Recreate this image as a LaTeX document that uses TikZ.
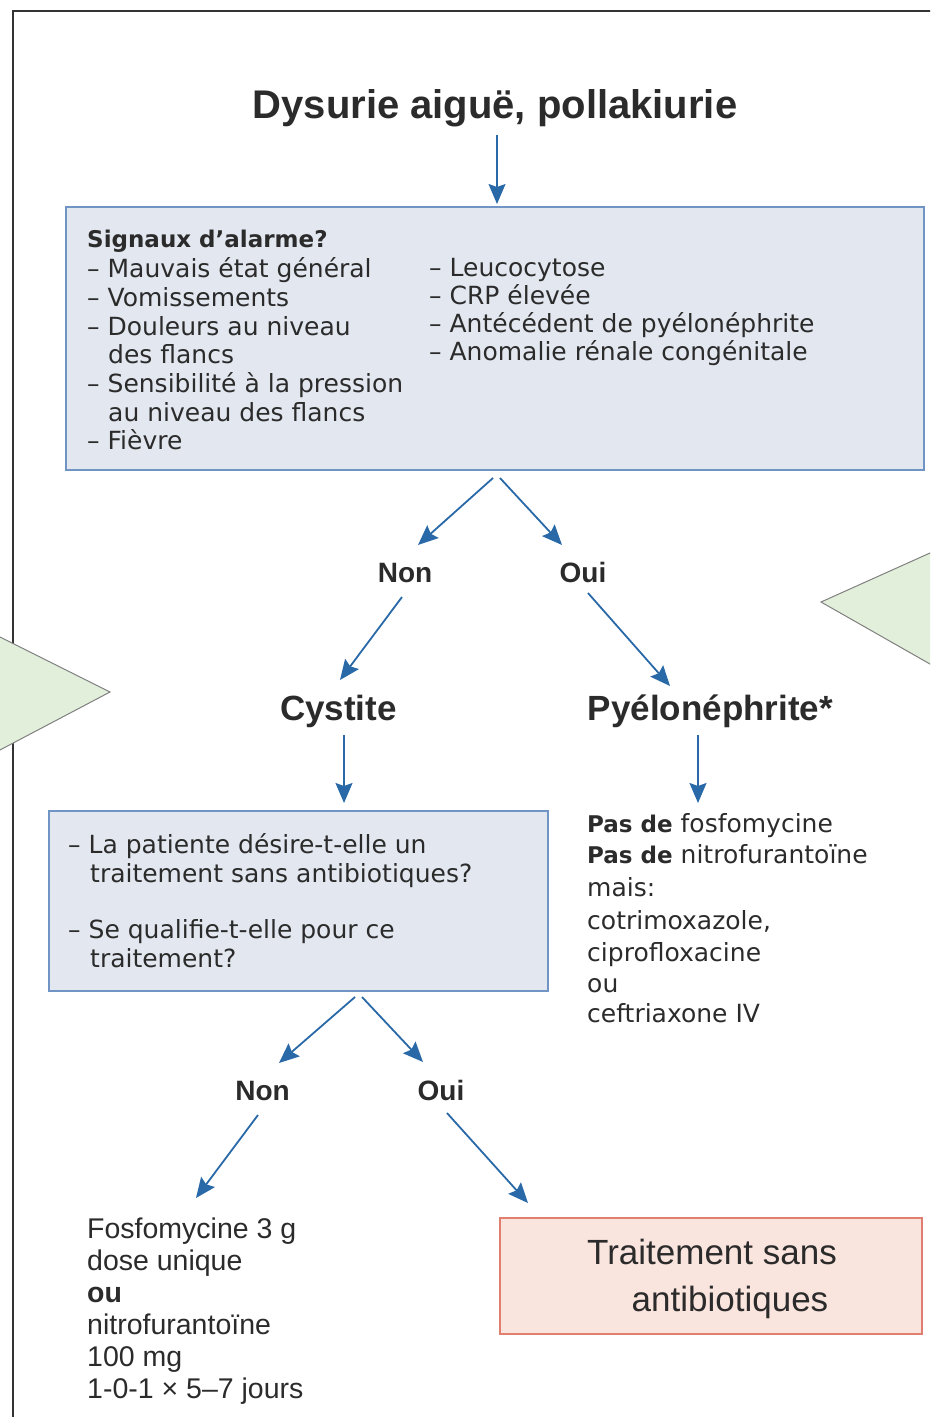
\documentclass[tikz,border=0pt]{standalone}
\usepackage{fontspec}
\setmainfont{DejaVu Sans}
\newfontfamily\helv{Liberation Sans}
\usetikzlibrary{arrows.meta}
\definecolor{arrowblue}{HTML}{2A69A8}
\definecolor{boxfill}{HTML}{E3E8F0}
\definecolor{boxline}{HTML}{7094C4}
\definecolor{redfill}{HTML}{FAE4DE}
\definecolor{redline}{HTML}{E07F70}
\definecolor{greenfill}{HTML}{E2EFDA}
\definecolor{txt}{HTML}{2B2B2B}
\definecolor{framecol}{HTML}{333333}
\begin{document}
\begin{tikzpicture}[x=1pt,y=-1pt,
  arr/.style={draw=arrowblue, line width=1.8pt, -{Stealth[length=20pt,width=17pt,inset=3pt]}},
  bluebox/.style={draw=boxline, fill=boxfill, line width=2pt, inner sep=0pt},
  redbox/.style={draw=redline, fill=redfill, line width=2pt, inner sep=0pt},
  body/.style={font=\fontsize{25}{29}\selectfont, text=txt, inner sep=0pt, anchor=base west},
  bodyb/.style={font=\fontsize{23}{29}\selectfont\bfseries, text=txt, inner sep=0pt, anchor=base west},
  cond/.style={font=\helv\fontsize{28.5}{32}\selectfont, text=txt, inner sep=0pt, anchor=base west},
  label/.style={font=\helv\bfseries\fontsize{28}{32}\selectfont, text=txt, inner sep=0pt, anchor=base},
  head/.style={font=\helv\bfseries\fontsize{35}{40}\selectfont, text=txt, inner sep=0pt, anchor=base},
  tri/.style={fill=greenfill, draw=gray, line width=1pt}
]
\useasboundingbox (0,0) rectangle (930,1417);
\begin{scope}
\clip (0,0) rectangle (930,1417);
\draw[framecol, line width=2.5pt] (13,1430) -- (13,11) -- (940,11);
\draw[tri] (-5,634.5) -- (110,692) -- (-5,752.6);
\draw[tri] (940,548.5) -- (821,602) -- (940,669.7);
\end{scope}

% title
\node[font=\helv\bfseries\fontsize{40}{44}\selectfont, text=txt, inner sep=0pt, anchor=base] (title) at (495,118) {Dysurie aiguë, pollakiurie};

% box 1
\node[bluebox, minimum width=858pt, minimum height=263pt] (b1) at (495,338.5) {};
\node[bodyb] (s0) at (87,247.3) {Signaux d’alarme?};
\node[body] (s1) at (87,277) {– Mauvais état général};
\node[body] (s2) at (87,306) {– Vomissements};
\node[body] (s3) at (87,335) {– Douleurs au niveau};
\node[body] (s4) at (108,363.5) {des flancs};
\node[body] (s5) at (87,392.5) {– Sensibilité à la pression};
\node[body] (s6) at (108,421) {au niveau des flancs};
\node[body] (s7) at (87,449.5) {– Fièvre};
\node[body] (r1) at (429,276) {– Leucocytose};
\node[body] (r2) at (429,304.3) {– CRP élevée};
\node[body] (r3) at (429,332.7) {– Antécédent de pyélonéphrite};
\node[body] (r4) at (429,360.7) {– Anomalie rénale congénitale};

% level labels
\node[label] (non1) at (405,582) {Non};
\node[label] (oui1) at (583,582) {Oui};
\node[head] (cys) at (338.5,720) {Cystite};
\node[head] (pye) at (710.5,720) {Pyélonéphrite*};

% box 2
\node[bluebox, minimum width=499pt, minimum height=180pt] (b2) at (298.5,901) {};
\node[body] (q1) at (68,853) {– La patiente désire-t-elle un};
\node[body] (q2) at (90,882) {traitement sans antibiotiques?};
\node[body] (q3) at (68,938) {– Se qualifie-t-elle pour ce};
\node[body] (q4) at (90,967) {traitement?};

% right block
\node[body] (p1) at (587,832.3) {{\fontsize{23}{29}\selectfont\bfseries Pas de} fosfomycine};
\node[body] (p2) at (587,863.5) {{\fontsize{23}{29}\selectfont\bfseries Pas de} nitrofurantoïne};
\node[body] (p3) at (587,896.7) {mais:};
\node[body] (p4) at (587,929) {cotrimoxazole,};
\node[body] (p5) at (587,961.7) {ciprofloxacine};
\node[body] (p6) at (587,992.7) {ou};
\node[body] (p7) at (587,1022.7) {ceftriaxone IV};

% level 2 labels
\node[label] (non2) at (262.5,1100) {Non};
\node[label] (oui2) at (441,1100) {Oui};

% bottom left
\node[cond] (f1) at (87,1238) {Fosfomycine 3 g};
\node[cond] (f2) at (87,1270) {dose unique};
\node[cond, font=\helv\bfseries\fontsize{28.5}{32}\selectfont] (f3) at (87,1302) {ou};
\node[cond] (f4) at (87,1334) {nitrofurantoïne};
\node[cond] (f5) at (87,1366) {100 mg};
\node[cond] (f6) at (87,1398) {1-0-1 × 5–7 jours};

% red box
\node[redbox, minimum width=422pt, minimum height=116pt] (rb) at (711,1276) {};
\node[font=\helv\fontsize{35}{40}\selectfont, text=txt, inner sep=0pt, anchor=base] (rt1) at (712,1264) {Traitement sans};
\node[font=\helv\fontsize{35}{40}\selectfont, text=txt, inner sep=0pt, anchor=base] (rt2) at (730,1311) {antibiotiques};

% arrow end points
\coordinate (a1s) at (497,135);  \coordinate (a1e) at (497,204);
\coordinate (a2s) at (493,478);  \coordinate (a2e) at (418,545);
\coordinate (a3s) at (500,478);  \coordinate (a3e) at (562,545);
\coordinate (a4s) at (402,597);  \coordinate (a4e) at (340,680);
\coordinate (a5s) at (588,593);  \coordinate (a5e) at (670,686);
\coordinate (a6s) at (344,735);  \coordinate (a6e) at (344,803);
\coordinate (a7s) at (698,735);  \coordinate (a7e) at (698,803);
\coordinate (a8s) at (355,997);  \coordinate (a8e) at (279,1063);
\coordinate (a9s) at (362,997);  \coordinate (a9e) at (423,1062);
\coordinate (a10s) at (258,1115); \coordinate (a10e) at (196,1198);
\coordinate (a11s) at (447,1113); \coordinate (a11e) at (528,1203);

\draw[arr, line width=1.3pt] (a1s) -- (a1e);
\draw[arr] (a2s) -- (a2e);
\draw[arr] (a3s) -- (a3e);
\draw[arr] (a4s) -- (a4e);
\draw[arr] (a5s) -- (a5e);
\draw[arr] (a6s) -- (a6e);
\draw[arr] (a7s) -- (a7e);
\draw[arr] (a8s) -- (a8e);
\draw[arr] (a9s) -- (a9e);
\draw[arr] (a10s) -- (a10e);
\draw[arr] (a11s) -- (a11e);
\end{tikzpicture}
\end{document}
